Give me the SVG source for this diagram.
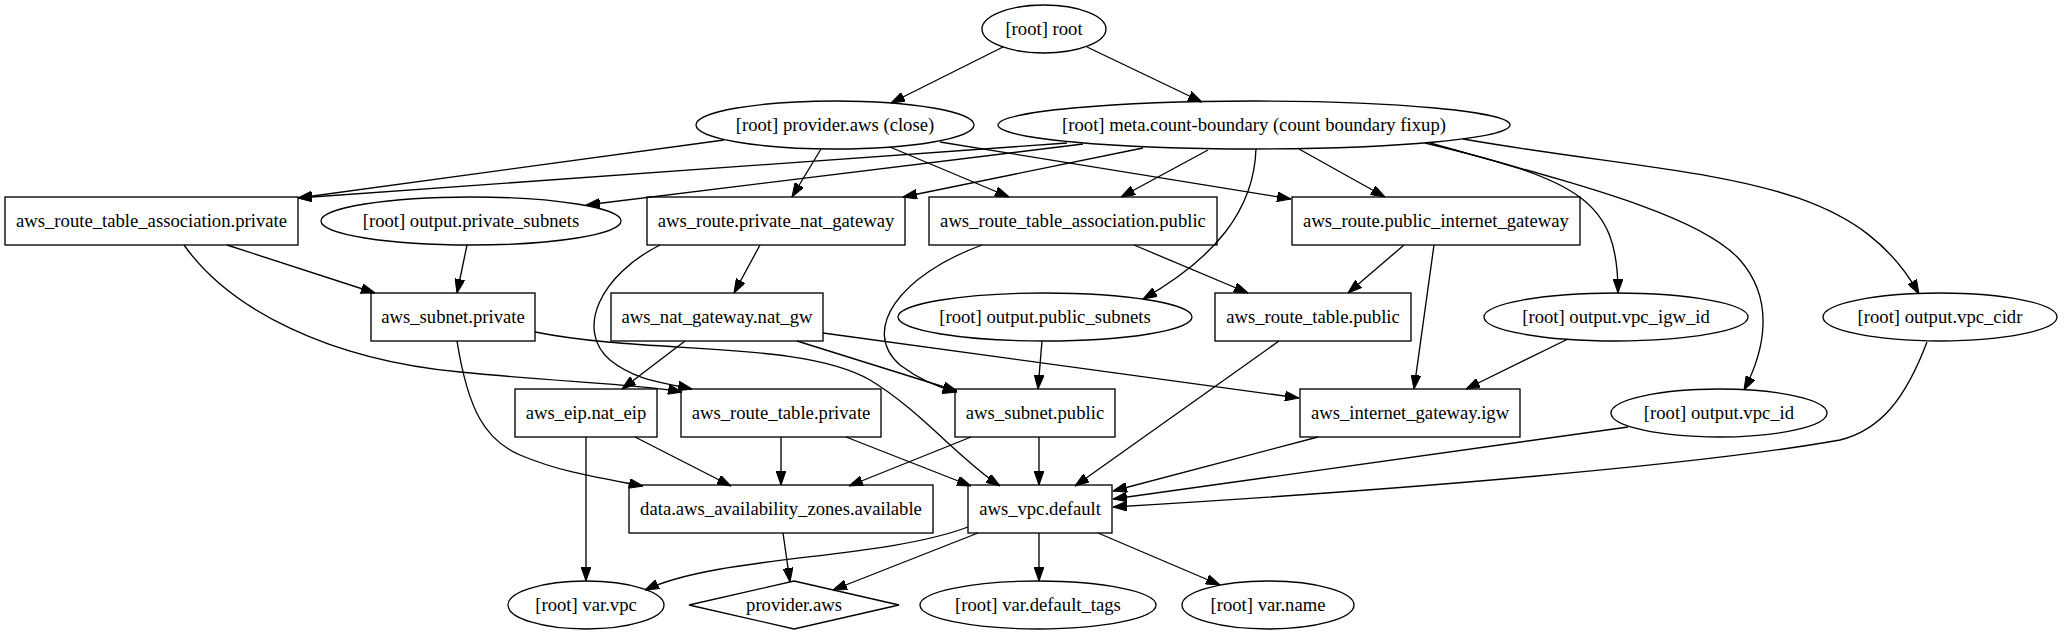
<svg xmlns="http://www.w3.org/2000/svg" width="2064" height="635" viewBox="0 0 2064 635">
<style>
.n ellipse,.n rect,.n polygon{fill:none;stroke:#000;stroke-width:1.33}
.n text{font-family:"Liberation Serif","Times New Roman",serif;font-size:18.67px;text-anchor:middle;fill:#000}
.e path{fill:none;stroke:#000;stroke-width:1.33;marker-end:url(#ah)}
</style>
<defs>
<marker id="ah" markerUnits="userSpaceOnUse" markerWidth="14" markerHeight="10" viewBox="0 0 13.33 9.33" refX="13.33" refY="4.67" orient="auto">
<path d="M0,0 L13.33,4.67 L0,9.33 z" fill="#000" stroke="#000" stroke-width="1"/>
</marker>
</defs>
<rect x="0" y="0" width="2064" height="635" fill="#fff"/>
<g id="edges" class="e">
<path d="M1003,47 L891,103"/>
<path d="M1087,47 L1202,102"/>
<path d="M724,140 L298,198"/>
<path d="M1067,143 L298,198"/>
<path d="M1083,144 L586,205"/>
<path d="M821,149 L792,197"/>
<path d="M1143,148 L903,197"/>
<path d="M890,147 L1009,197"/>
<path d="M940,142 L1291,199"/>
<path d="M1208,150 L1121,197"/>
<path d="M1299,149 L1385,197"/>
<path d="M1256,149 C1254,210 1215,258 1143,299"/>
<path d="M1425,143 C1580,180 1618,200 1618,293"/>
<path d="M1430,143 C1580,185 1700,215 1740,260 C1775,300 1765,350 1744,390"/>
<path d="M1463,139 C1700,180 1850,170 1919,294"/>
<path d="M227,245 L375,293"/>
<path d="M184,245 C230,310 330,360 460,372 C560,382 640,384 682,392"/>
<path d="M467,245 L457,293"/>
<path d="M760,245 L734,293"/>
<path d="M660,245 C600,275 575,330 610,360 C635,380 660,382 692,389"/>
<path d="M1134,245 L1248,293"/>
<path d="M982,245 C900,275 860,330 900,365 C920,380 940,388 957,392"/>
<path d="M1404,245 L1348,293"/>
<path d="M1434,245 L1414,389"/>
<path d="M457,341 C468,410 485,440 520,455 C560,472 600,478 643,486"/>
<path d="M535,332 C650,355 800,340 870,380 C920,410 960,460 1000,486"/>
<path d="M685,341 L622,389"/>
<path d="M797,341 L957,391"/>
<path d="M823,333 L1299,398"/>
<path d="M1042,341 L1038,389"/>
<path d="M1279,341 L1075,486"/>
<path d="M1568,339 L1466,389"/>
<path d="M1927,342 C1905,400 1880,430 1840,440 C1700,465 1400,490 1113,507"/>
<path d="M586,437 L586,581"/>
<path d="M635,437 L731,486"/>
<path d="M781,437 L781,485"/>
<path d="M846,437 L971,486"/>
<path d="M971,437 L849,486"/>
<path d="M1039,437 L1039,485"/>
<path d="M1318,437 L1113,491"/>
<path d="M1628,427 L1113,499"/>
<path d="M783,533 L790,582"/>
<path d="M968,527 C880,560 720,555 645,590"/>
<path d="M978,533 L833,590"/>
<path d="M1039,533 L1039,581"/>
<path d="M1098,533 L1220,585"/>
</g>
<g id="root" class="n"><ellipse cx="1044" cy="29" rx="62" ry="24"/><text x="1044" y="35">[root] root</text></g>
<g id="provider_close" class="n"><ellipse cx="835" cy="125" rx="139" ry="24"/><text x="835" y="131">[root] provider.aws (close)</text></g>
<g id="meta" class="n"><ellipse cx="1254" cy="125" rx="256" ry="24"/><text x="1254" y="131">[root] meta.count-boundary (count boundary fixup)</text></g>
<g id="rta_private" class="n"><rect x="5" y="197" width="293" height="48"/><text x="151.5" y="227">aws_route_table_association.private</text></g>
<g id="out_private_subnets" class="n"><ellipse cx="471" cy="221" rx="150" ry="24"/><text x="471" y="227">[root] output.private_subnets</text></g>
<g id="route_private_nat" class="n"><rect x="647" y="197" width="258" height="48"/><text x="776" y="227">aws_route.private_nat_gateway</text></g>
<g id="rta_public" class="n"><rect x="929" y="197" width="288" height="48"/><text x="1073" y="227">aws_route_table_association.public</text></g>
<g id="route_public_igw" class="n"><rect x="1292" y="197" width="288" height="48"/><text x="1436" y="227">aws_route.public_internet_gateway</text></g>
<g id="subnet_private" class="n"><rect x="371" y="293" width="164" height="48"/><text x="453" y="323">aws_subnet.private</text></g>
<g id="nat_gw" class="n"><rect x="611" y="293" width="212" height="48"/><text x="717" y="323">aws_nat_gateway.nat_gw</text></g>
<g id="out_public_subnets" class="n"><ellipse cx="1045" cy="317" rx="147" ry="24"/><text x="1045" y="323">[root] output.public_subnets</text></g>
<g id="rt_public" class="n"><rect x="1215" y="293" width="196" height="48"/><text x="1313" y="323">aws_route_table.public</text></g>
<g id="out_vpc_igw_id" class="n"><ellipse cx="1616" cy="317" rx="132" ry="24"/><text x="1616" y="323">[root] output.vpc_igw_id</text></g>
<g id="out_vpc_cidr" class="n"><ellipse cx="1940" cy="317" rx="117" ry="24"/><text x="1940" y="323">[root] output.vpc_cidr</text></g>
<g id="eip" class="n"><rect x="515" y="389" width="142" height="48"/><text x="586" y="419">aws_eip.nat_eip</text></g>
<g id="rt_private" class="n"><rect x="681" y="389" width="200" height="48"/><text x="781" y="419">aws_route_table.private</text></g>
<g id="subnet_public" class="n"><rect x="955" y="389" width="160" height="48"/><text x="1035" y="419">aws_subnet.public</text></g>
<g id="igw" class="n"><rect x="1300" y="389" width="220" height="48"/><text x="1410" y="419">aws_internet_gateway.igw</text></g>
<g id="out_vpc_id" class="n"><ellipse cx="1719" cy="413" rx="108" ry="24"/><text x="1719" y="419">[root] output.vpc_id</text></g>
<g id="data_az" class="n"><rect x="629" y="485" width="304" height="48"/><text x="781" y="515">data.aws_availability_zones.available</text></g>
<g id="vpc" class="n"><rect x="968" y="485" width="144" height="48"/><text x="1040" y="515">aws_vpc.default</text></g>
<g id="var_vpc" class="n"><ellipse cx="586" cy="605" rx="78" ry="24"/><text x="586" y="611">[root] var.vpc</text></g>
<g id="provider_aws" class="n"><polygon points="794,581 899,605 794,629 689,605"/><text x="794" y="611">provider.aws</text></g>
<g id="var_default_tags" class="n"><ellipse cx="1038" cy="605" rx="118" ry="24"/><text x="1038" y="611">[root] var.default_tags</text></g>
<g id="var_name" class="n"><ellipse cx="1268" cy="605" rx="86" ry="24"/><text x="1268" y="611">[root] var.name</text></g>
</svg>
